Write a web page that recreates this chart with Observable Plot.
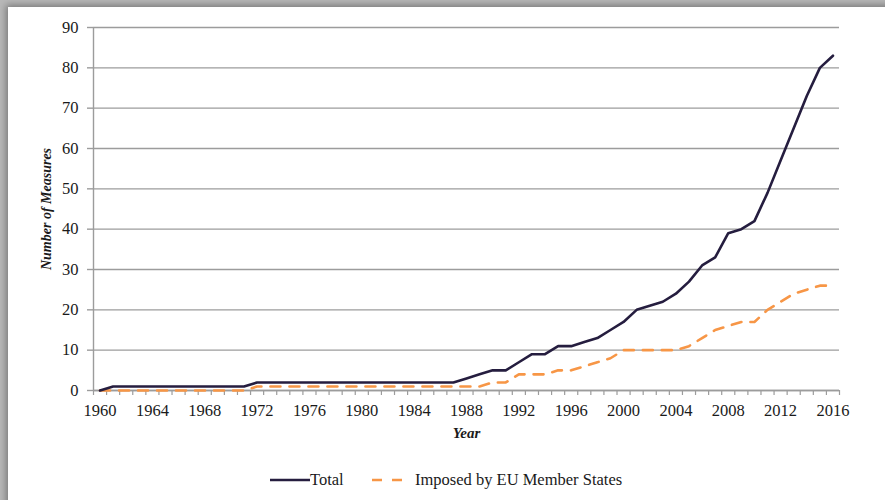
<!DOCTYPE html>
<html>
<head>
<meta charset="utf-8">
<script src="https://cdn.jsdelivr.net/npm/d3@7"></script>
<script src="https://cdn.jsdelivr.net/npm/@observablehq/plot@0.6"></script>
<style>
  html, body { margin: 0; padding: 0; }
  body { width: 885px; height: 500px; overflow: hidden; position: relative; background: #b8b8b8; }
  #panel { position: absolute; left: 8px; top: 7px; width: 920px; height: 540px; background: #fff;
           box-shadow: 0 0 7px 2px rgba(0,0,0,0.35); }
  #chart { position: absolute; left: 0; top: 0; }
  #legend { position: absolute; left: 0; top: 455px; width: 885px; height: 45px;
            font-family: 'Liberation Serif', 'Times New Roman', serif; font-size: 16.5px; color: #1a1a1a; }
  .item { position: absolute; top: 14px; display: flex; align-items: center; height: 22px; }
</style>
</head>
<body>
<div id="panel"></div>
<div id="chart"></div>
<div id="legend">
  <div class="item" style="left:270px">
    <svg width="40" height="10"><line x1="0" x2="40" y1="5" y2="5" stroke="#251d3f" stroke-width="2.6"/></svg>
    <span>Total</span>
  </div>
  <div class="item" style="left:372px">
    <svg width="32" height="10"><line x1="0" x2="32" y1="5" y2="5" stroke="#f79646" stroke-width="2.6" stroke-dasharray="10,10"/></svg>
    <span style="margin-left:11px">Imposed by EU Member States</span>
  </div>
</div>
<script>
const years = [1960,1961,1962,1963,1964,1965,1966,1967,1968,1969,1970,1971,1972,1973,1974,1975,1976,1977,1978,1979,
  1980,1981,1982,1983,1984,1985,1986,1987,1988,1989,1990,1991,1992,1993,1994,1995,1996,1997,1998,1999,
  2000,2001,2002,2003,2004,2005,2006,2007,2008,2009,2010,2011,2012,2013,2014,2015,2016];
const total = [0,1,1,1,1,1,1,1,1,1,1,1,2,2,2,2,2,2,2,2,
  2,2,2,2,2,2,2,2,3,4,5,5,7,9,9,11,11,12,13,15,
  17,20,21,22,24,27,31,33,39,40,42,49,57,65,73,80,83];
const imposed = [0,0,0,0,0,0,0,0,0,0,0,0,1,1,1,1,1,1,1,1,
  1,1,1,1,1,1,1,1,1,1,2,2,4,4,4,5,5,6,7,8,
  10,10,10,10,10,11,13,15,16,17,17,20,22,24,25,26,26];
const xTickLabels = [1960,1964,1968,1972,1976,1980,1984,1988,1992,1996,2000,2004,2008,2012,2016];
const yTicks = [0,10,20,30,40,50,60,70,80,90];

const data = years.map((year, i) => ({year, total: total[i], imposed: imposed[i]}));
const boundaries = years.map(y => y - 0.5).concat([years[years.length - 1] + 0.5]);

const gray = "#9c9c9c";
const chart = Plot.plot({
  width: 885,
  height: 455,
  marginLeft: 93,
  marginRight: 46,
  marginTop: 27,
  marginBottom: 65,
  x: {domain: [boundaries[0], boundaries[boundaries.length - 1]]},
  y: {domain: [0, 90]},
  style: {fontFamily: "'Liberation Serif', 'Times New Roman', serif", fontSize: "16.5px", color: "#1a1a1a", background: "transparent", overflow: "visible"},
  marks: [
    Plot.gridY(yTicks, {stroke: gray, strokeOpacity: 1, strokeWidth: 1.4}),
    Plot.axisY(yTicks, {tickSize: 6, tickPadding: 9, stroke: gray, strokeWidth: 1.4, fill: "#1a1a1a", label: null}),
    Plot.axisX(boundaries, {tickSize: 5, tickFormat: () => "", stroke: gray, strokeWidth: 1.2, label: null}),
    Plot.axisX(xTickLabels, {tickSize: 0, tickPadding: 14, tickFormat: d => String(d), fill: "#1a1a1a", label: null}),
    Plot.ruleX([boundaries[0]], {stroke: gray, strokeWidth: 1.4}),
    Plot.ruleY([0], {stroke: gray, strokeWidth: 1.4}),
    Plot.line(data, {x: "year", y: "imposed", stroke: "#f79646", strokeWidth: 2.6, strokeDasharray: "10,9"}),
    Plot.line(data, {x: "year", y: "total", stroke: "#251d3f", strokeWidth: 2.6}),
    Plot.text(["Year"], {frameAnchor: "bottom", lineAnchor: "middle", dy: 43, fontWeight: "bold", fontStyle: "italic", fontSize: 15, fill: "#1a1a1a"}),
    Plot.text(["Number of Measures"], {frameAnchor: "left", textAnchor: "middle", lineAnchor: "middle", dx: -47, rotate: -90, fontWeight: "bold", fontStyle: "italic", fontSize: 14, fill: "#1a1a1a"})
  ]
});
document.getElementById("chart").appendChild(chart);
</script>
</body>
</html>
